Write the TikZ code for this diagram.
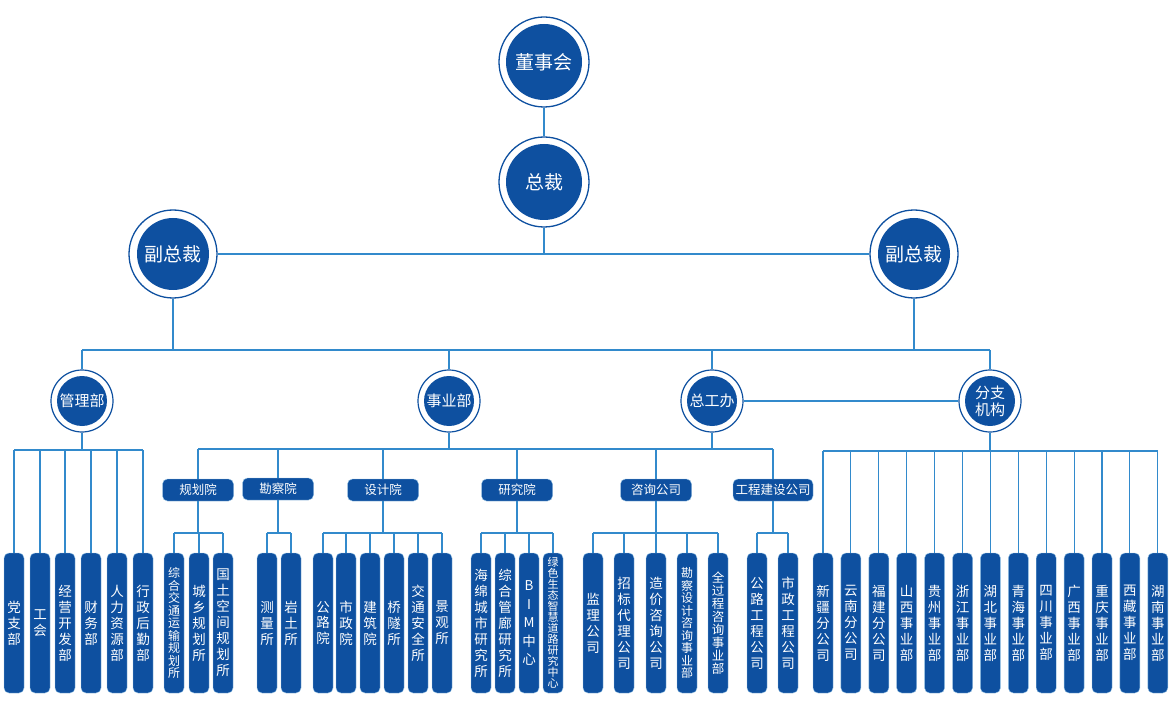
\documentclass[tikz,border=0pt]{standalone}
\usepackage{fontspec}
\newfontfamily\cjk{Noto Sans CJK SC}
\definecolor{dblue}{RGB}{14,80,160}
\definecolor{lblue}{RGB}{50,138,204}
\begin{document}
\begin{tikzpicture}[x=1pt,y=-1pt,
  conn/.style={draw=lblue, line width=1.1pt},
  bigc/.style={circle, draw=dblue, line width=1.3pt, minimum size=90pt, inner sep=0pt, text=white,
    font=\cjk\fontsize{19}{21}\selectfont,
    path picture={\fill[dblue] (path picture bounding box.center) circle (38pt);}},
  vpc/.style={bigc, minimum size=88pt,
    path picture={\fill[dblue] (path picture bounding box.center) circle (36pt);}},
  midc/.style={circle, draw=dblue, line width=1.2pt, minimum size=62pt, inner sep=0pt, text=white,
    align=center, font=\cjk\fontsize{15}{17}\selectfont,
    path picture={\fill[dblue] (path picture bounding box.center) circle (25pt);}},
  hbox/.style={rectangle, rounded corners=5pt, fill=dblue, draw=lblue!50, line width=0.4pt,
    minimum width=71pt, minimum height=22pt, inner sep=1pt, text=white, font=\cjk\fontsize{12.5}{14}\selectfont},
  bar/.style={rectangle, rounded corners=5pt, fill=dblue, draw=lblue!50, line width=0.4pt,
    minimum width=20pt, minimum height=140pt, inner sep=0pt, text=white, align=center,
    font=\cjk\fontsize{13.5}{16}\selectfont},
  barS/.style={bar, font=\cjk\fontsize{12}{12.5}\selectfont},
  barM/.style={bar, font=\cjk\fontsize{12.5}{13}\selectfont},
  barXS/.style={bar, font=\cjk\fontsize{11}{11}\selectfont},
  barB/.style={bar, font=\cjk\fontsize{13.5}{18.5}\selectfont}
]
\useasboundingbox[fill=white] (0,0) rectangle (1172,711);

% top circles
\node[bigc] (c1) at (544,62) {董事会};
\node[bigc] (c2) at (544,182) {总裁};
\node[vpc] (vpL) at (173,254) {副总裁};
\node[vpc] (vpR) at (914,254) {副总裁};

% level 3 circles
\node[midc] (m1) at (82,401) {管理部};
\node[midc] (m2) at (449,401) {事业部};
\node[midc] (m3) at (712,401) {总工办};
\node[midc] (m4) at (990,401) {分支\\机构};

% horizontal boxes
\node[hbox] (h1) at (198,490) {规划院};
\node[hbox] (h2) at (278,489) {勘察院};
\node[hbox] (h3) at (383,490) {设计院};
\node[hbox] (h4) at (517,490) {研究院};
\node[hbox] (h5) at (656,490) {咨询公司};
\node[hbox, minimum width=80pt] (h6) at (773,490) {工程建设公司};

% bars: 管理部
\node[bar] (a1) at (14,623) {党\\支\\部};
\node[bar] (a2) at (40,623) {工\\会};
\node[bar] (a3) at (65,623) {经\\营\\开\\发\\部};
\node[bar] (a4) at (91,623) {财\\务\\部};
\node[bar] (a5) at (117,623) {人\\力\\资\\源\\部};
\node[bar] (a6) at (143,623) {行\\政\\后\\勤\\部};

% 规划院
\node[barS] (g1) at (174,623) {综\\合\\交\\通\\运\\输\\规\\划\\所};
\node[bar] (g2) at (199,623) {城\\乡\\规\\划\\所};
\node[bar] (g3) at (223,623) {国\\土\\空\\间\\规\\划\\所};

% 勘察院
\node[bar] (k1) at (267,623) {测\\量\\所};
\node[bar] (k2) at (291,623) {岩\\土\\所};

% 设计院
\node[bar] (s1) at (323,623) {公\\路\\院};
\node[bar] (s2) at (346,623) {市\\政\\院};
\node[bar] (s3) at (370,623) {建\\筑\\院};
\node[bar] (s4) at (394,623) {桥\\隧\\所};
\node[bar] (s5) at (418,623) {交\\通\\安\\全\\所};
\node[bar] (s6) at (442,623) {景\\观\\所};

% 研究院
\node[bar] (y1) at (481,623) {海\\绵\\城\\市\\研\\究\\所};
\node[bar] (y2) at (505,623) {综\\合\\管\\廊\\研\\究\\所};
\node[barB] (y3) at (529,623) {B\\I\\M\\中\\心};
\node[barXS] (y4) at (553,623) {绿\\色\\生\\态\\智\\慧\\道\\路\\研\\究\\中\\心};

% 咨询公司
\node[bar] (z1) at (593,623) {监\\理\\公\\司};
\node[bar] (z2) at (624,623) {招\\标\\代\\理\\公\\司};
\node[bar] (z3) at (656,623) {造\\价\\咨\\询\\公\\司};
\node[barS] (z4) at (687,623) {勘\\察\\设\\计\\咨\\询\\事\\业\\部};
\node[barM] (z5) at (718,623) {全\\过\\程\\咨\\询\\事\\业\\部};

% 工程建设公司
\node[bar] (e1) at (757,623) {公\\路\\工\\程\\公\\司};
\node[bar] (e2) at (788,623) {市\\政\\工\\程\\公\\司};

% 分支机构
\foreach \t [count=\i from 0] in {新\\疆\\分\\公\\司, 云\\南\\分\\公\\司, 福\\建\\分\\公\\司,
  山\\西\\事\\业\\部, 贵\\州\\事\\业\\部, 浙\\江\\事\\业\\部, 湖\\北\\事\\业\\部,
  青\\海\\事\\业\\部, 四\\川\\事\\业\\部, 广\\西\\事\\业\\部, 重\\庆\\事\\业\\部,
  西\\藏\\事\\业\\部, 湖\\南\\事\\业\\部}
  \node[bar] (r\i) at ({823+27.9*\i},623) {\t};

% junction coordinates
\coordinate (j2) at (544,254);
\coordinate (j3) at (0,350);
\coordinate (jA) at (0,450);
\coordinate (j4) at (0,449);
\coordinate (j5) at (0,533);
\coordinate (j6) at (0,451);

% connectors top
\draw[conn] (c1) -- (c2);
\draw[conn] (c2) -- (j2);
\draw[conn] (vpL) -- (vpR);
\draw[conn] (vpL) -- (vpL |- j3);
\draw[conn] (vpR) -- (vpR |- j3);
\draw[conn] (m1 |- j3) -- (m4 |- j3);
\foreach \m in {m1,m2,m3,m4} \draw[conn] (\m) -- (\m |- j3);
\draw[conn] (m3) -- (m4);

% 管理部 group
\draw[conn] (m1) -- (m1 |- jA);
\draw[conn] (a1 |- jA) -- (a6 |- jA);
\foreach \b in {a1,a2,a3,a4,a5,a6} \draw[conn] (\b) -- (\b |- jA);

% 事业部 / 总工办 to boxes
\draw[conn] (h1 |- j4) -- (h6 |- j4);
\draw[conn] (m2) -- (m2 |- j4);
\draw[conn] (m3) -- (m3 |- j4);
\foreach \h in {h1,h2,h3,h4,h5,h6} {
  \draw[conn] (\h) -- (\h |- j4);
  \draw[conn] (\h) -- (\h |- j5);
}
\draw[conn] (g1 |- j5) -- (g3 |- j5);
\draw[conn] (k1 |- j5) -- (k2 |- j5);
\draw[conn] (s1 |- j5) -- (s6 |- j5);
\draw[conn] (y1 |- j5) -- (y4 |- j5);
\draw[conn] (z1 |- j5) -- (z5 |- j5);
\draw[conn] (e1 |- j5) -- (e2 |- j5);
\foreach \b in {g1,g2,g3,k1,k2,s1,s2,s3,s4,s5,s6,y1,y2,y3,y4,z1,z2,z3,z4,z5,e1,e2}
  \draw[conn] (\b) -- (\b |- j5);

% 分支机构 group
\draw[conn] (m4) -- (m4 |- j6);
\draw[conn] (r0 |- j6) -- (r12 |- j6);
\foreach \i in {0,...,12} \draw[conn] (r\i) -- (r\i |- j6);
\end{tikzpicture}
\end{document}
